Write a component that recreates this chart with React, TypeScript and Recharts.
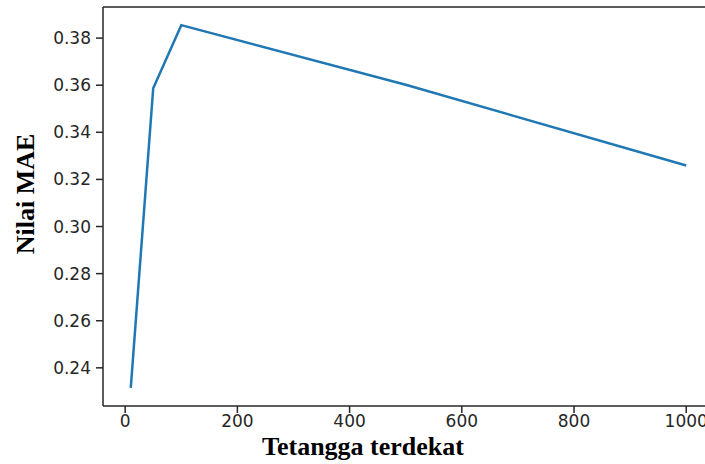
import { LineChart, Line, XAxis, YAxis, ReferenceLine } from 'recharts';

// nearest neighbours (k) vs MAE
const neighbours = [10, 50, 100, 500, 1000];
const maeValues = [0.2315, 0.3587, 0.3855, 0.3602, 0.3259];
const xTicks = [0, 200, 400, 600, 800, 1000];
const yTicks = [0.24, 0.26, 0.28, 0.3, 0.32, 0.34, 0.36, 0.38];

const data = neighbours.map((k, i) => ({ k, mae: maeValues[i] }));

const X_DOMAIN: [number, number] = [-39.5, 1049.5];
const Y_DOMAIN: [number, number] = [0.2238, 0.3932];

const tickStyle = { fill: '#262626', fontSize: 17, fontFamily: 'DejaVu Sans' };
const spine = '#262626';

export default function App() {
  return (
    <div style={{ position: 'absolute', left: 0, top: 0, width: 705, height: 464, overflow: 'hidden', background: '#fff' }}>
      <LineChart width={720} height={464} data={data} margin={{ top: 7, right: 6, bottom: 0, left: 0 }}>
        <XAxis
          dataKey="k"
          type="number"
          domain={X_DOMAIN}
          ticks={xTicks}
          allowDataOverflow
          height={58}
          tickSize={7}
          tickMargin={2}
          tick={tickStyle}
          stroke={spine}
          strokeWidth={1.5}
        />
        <YAxis
          type="number"
          domain={Y_DOMAIN}
          ticks={yTicks}
          allowDataOverflow
          width={103}
          tickSize={7}
          tickMargin={5}
          tick={tickStyle}
          tickFormatter={(v: number) => v.toFixed(2)}
          stroke={spine}
          strokeWidth={1.5}
        />
        <ReferenceLine y={Y_DOMAIN[1]} stroke={spine} strokeWidth={1.5} />
        <Line
          dataKey="mae"
          type="linear"
          stroke="#1f77b4"
          strokeWidth={2.5}
          dot={false}
          isAnimationActive={false}
        />
      </LineChart>
      <div style={{ position: 'absolute', left: 0, width: 726, top: 432, textAlign: 'center', fontFamily: '"Liberation Serif", serif', fontWeight: 'bold', fontSize: 26, lineHeight: '30px', color: '#000' }}>
        Tetangga terdekat
      </div>
      <div style={{ position: 'absolute', left: 26, top: 194, width: 0, height: 0 }}>
        <div style={{ position: 'absolute', left: 0, top: 0, transform: 'translate(-50%, -50%) rotate(-90deg)', whiteSpace: 'nowrap', fontFamily: '"Liberation Serif", serif', fontWeight: 'bold', fontSize: 26, lineHeight: '30px', color: '#000' }}>
          Nilai MAE
        </div>
      </div>
    </div>
  );
}
